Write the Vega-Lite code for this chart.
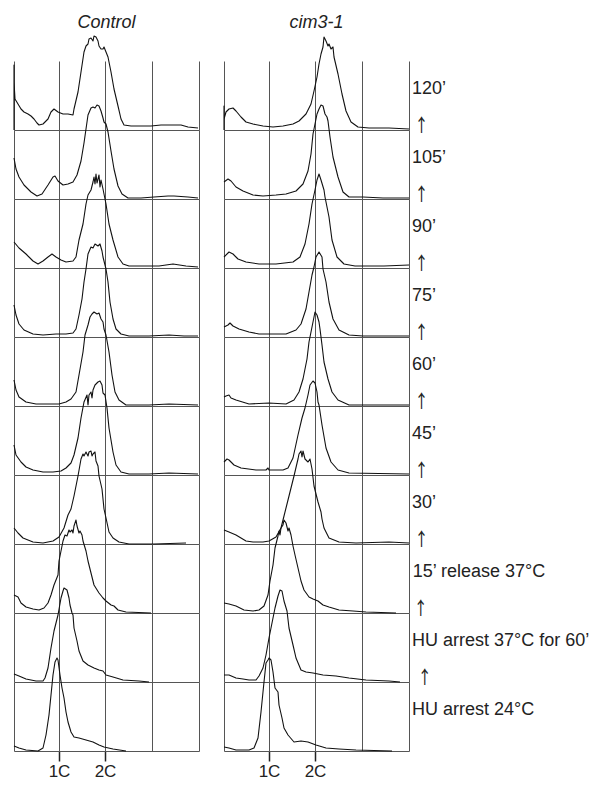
{
"$schema":"https://vega.github.io/schema/vega-lite/v6.json",
"background":"white",
"padding":{"left":13,"top":14,"right":2,"bottom":0},
"bounds":"flush",
"data":{"values":[
{"strain":"Control","stage":1,"dna":0,"count":0},{"strain":"Control","stage":1,"dna":0,"count":65},{"strain":"Control","stage":1,"dna":0,"count":48},{"strain":"Control","stage":1,"dna":1,"count":31},{"strain":"Control","stage":1,"dna":4,"count":26},{"strain":"Control","stage":1,"dna":7,"count":21},{"strain":"Control","stage":1,"dna":10,"count":18},{"strain":"Control","stage":1,"dna":14,"count":16},{"strain":"Control","stage":1,"dna":17,"count":14},{"strain":"Control","stage":1,"dna":20,"count":11},{"strain":"Control","stage":1,"dna":23,"count":7},{"strain":"Control","stage":1,"dna":25,"count":5},{"strain":"Control","stage":1,"dna":29,"count":6},{"strain":"Control","stage":1,"dna":34,"count":11},{"strain":"Control","stage":1,"dna":37,"count":18},{"strain":"Control","stage":1,"dna":40,"count":21},{"strain":"Control","stage":1,"dna":44,"count":18},{"strain":"Control","stage":1,"dna":49,"count":16},{"strain":"Control","stage":1,"dna":54,"count":16},{"strain":"Control","stage":1,"dna":59,"count":15},{"strain":"Control","stage":1,"dna":60,"count":21},{"strain":"Control","stage":1,"dna":64,"count":38},{"strain":"Control","stage":1,"dna":67,"count":58},{"strain":"Control","stage":1,"dna":70,"count":78},{"strain":"Control","stage":1,"dna":72,"count":84},{"strain":"Control","stage":1,"dna":74,"count":86},{"strain":"Control","stage":1,"dna":75,"count":91},{"strain":"Control","stage":1,"dna":77,"count":92},{"strain":"Control","stage":1,"dna":79,"count":89},{"strain":"Control","stage":1,"dna":80,"count":94},{"strain":"Control","stage":1,"dna":82,"count":93},{"strain":"Control","stage":1,"dna":84,"count":89},{"strain":"Control","stage":1,"dna":85,"count":84},{"strain":"Control","stage":1,"dna":87,"count":81},{"strain":"Control","stage":1,"dna":89,"count":81},{"strain":"Control","stage":1,"dna":90,"count":83},{"strain":"Control","stage":1,"dna":92,"count":78},{"strain":"Control","stage":1,"dna":94,"count":73},{"strain":"Control","stage":1,"dna":97,"count":58},{"strain":"Control","stage":1,"dna":100,"count":41},{"strain":"Control","stage":1,"dna":104,"count":24},{"strain":"Control","stage":1,"dna":107,"count":11},{"strain":"Control","stage":1,"dna":110,"count":5},{"strain":"Control","stage":1,"dna":117,"count":4},{"strain":"Control","stage":1,"dna":127,"count":4},{"strain":"Control","stage":1,"dna":137,"count":4},{"strain":"Control","stage":1,"dna":147,"count":5},{"strain":"Control","stage":1,"dna":157,"count":5},{"strain":"Control","stage":1,"dna":167,"count":5},{"strain":"Control","stage":1,"dna":174,"count":3},{"strain":"Control","stage":1,"dna":184,"count":2},
{"strain":"Control","stage":2,"dna":0,"count":41},{"strain":"Control","stage":2,"dna":2,"count":30},{"strain":"Control","stage":2,"dna":5,"count":22},{"strain":"Control","stage":2,"dna":10,"count":14},{"strain":"Control","stage":2,"dna":17,"count":7},{"strain":"Control","stage":2,"dna":23,"count":3},{"strain":"Control","stage":2,"dna":28,"count":5},{"strain":"Control","stage":2,"dna":34,"count":14},{"strain":"Control","stage":2,"dna":39,"count":22},{"strain":"Control","stage":2,"dna":41,"count":23},{"strain":"Control","stage":2,"dna":44,"count":18},{"strain":"Control","stage":2,"dna":49,"count":14},{"strain":"Control","stage":2,"dna":54,"count":15},{"strain":"Control","stage":2,"dna":59,"count":17},{"strain":"Control","stage":2,"dna":63,"count":24},{"strain":"Control","stage":2,"dna":67,"count":38},{"strain":"Control","stage":2,"dna":70,"count":56},{"strain":"Control","stage":2,"dna":72,"count":70},{"strain":"Control","stage":2,"dna":74,"count":84},{"strain":"Control","stage":2,"dna":77,"count":91},{"strain":"Control","stage":2,"dna":79,"count":92},{"strain":"Control","stage":2,"dna":81,"count":91},{"strain":"Control","stage":2,"dna":83,"count":94},{"strain":"Control","stage":2,"dna":85,"count":93},{"strain":"Control","stage":2,"dna":87,"count":88},{"strain":"Control","stage":2,"dna":89,"count":81},{"strain":"Control","stage":2,"dna":90,"count":77},{"strain":"Control","stage":2,"dna":92,"count":75},{"strain":"Control","stage":2,"dna":94,"count":67},{"strain":"Control","stage":2,"dna":97,"count":48},{"strain":"Control","stage":2,"dna":100,"count":30},{"strain":"Control","stage":2,"dna":104,"count":13},{"strain":"Control","stage":2,"dna":108,"count":5},{"strain":"Control","stage":2,"dna":114,"count":1},{"strain":"Control","stage":2,"dna":127,"count":1},{"strain":"Control","stage":2,"dna":140,"count":2},{"strain":"Control","stage":2,"dna":154,"count":3},{"strain":"Control","stage":2,"dna":160,"count":3},{"strain":"Control","stage":2,"dna":174,"count":2},{"strain":"Control","stage":2,"dna":184,"count":1},
{"strain":"Control","stage":3,"dna":0,"count":26},{"strain":"Control","stage":3,"dna":5,"count":20},{"strain":"Control","stage":3,"dna":12,"count":14},{"strain":"Control","stage":3,"dna":19,"count":7},{"strain":"Control","stage":3,"dna":24,"count":4},{"strain":"Control","stage":3,"dna":29,"count":7},{"strain":"Control","stage":3,"dna":34,"count":11},{"strain":"Control","stage":3,"dna":38,"count":14},{"strain":"Control","stage":3,"dna":42,"count":11},{"strain":"Control","stage":3,"dna":47,"count":8},{"strain":"Control","stage":3,"dna":52,"count":6},{"strain":"Control","stage":3,"dna":59,"count":7},{"strain":"Control","stage":3,"dna":62,"count":11},{"strain":"Control","stage":3,"dna":65,"count":28},{"strain":"Control","stage":3,"dna":69,"count":44},{"strain":"Control","stage":3,"dna":72,"count":64},{"strain":"Control","stage":3,"dna":74,"count":73},{"strain":"Control","stage":3,"dna":77,"count":78},{"strain":"Control","stage":3,"dna":79,"count":86},{"strain":"Control","stage":3,"dna":80,"count":91},{"strain":"Control","stage":3,"dna":81,"count":84},{"strain":"Control","stage":3,"dna":82,"count":94},{"strain":"Control","stage":3,"dna":83,"count":85},{"strain":"Control","stage":3,"dna":85,"count":93},{"strain":"Control","stage":3,"dna":86,"count":81},{"strain":"Control","stage":3,"dna":87,"count":88},{"strain":"Control","stage":3,"dna":89,"count":79},{"strain":"Control","stage":3,"dna":90,"count":74},{"strain":"Control","stage":3,"dna":92,"count":64},{"strain":"Control","stage":3,"dna":95,"count":44},{"strain":"Control","stage":3,"dna":99,"count":28},{"strain":"Control","stage":3,"dna":104,"count":11},{"strain":"Control","stage":3,"dna":109,"count":4},{"strain":"Control","stage":3,"dna":115,"count":2},{"strain":"Control","stage":3,"dna":132,"count":2},{"strain":"Control","stage":3,"dna":145,"count":2},{"strain":"Control","stage":3,"dna":159,"count":4},{"strain":"Control","stage":3,"dna":172,"count":2},{"strain":"Control","stage":3,"dna":184,"count":1},
{"strain":"Control","stage":4,"dna":0,"count":32},{"strain":"Control","stage":4,"dna":2,"count":22},{"strain":"Control","stage":4,"dna":5,"count":13},{"strain":"Control","stage":4,"dna":10,"count":7},{"strain":"Control","stage":4,"dna":19,"count":3},{"strain":"Control","stage":4,"dna":29,"count":2},{"strain":"Control","stage":4,"dna":42,"count":3},{"strain":"Control","stage":4,"dna":52,"count":3},{"strain":"Control","stage":4,"dna":59,"count":4},{"strain":"Control","stage":4,"dna":62,"count":8},{"strain":"Control","stage":4,"dna":65,"count":22},{"strain":"Control","stage":4,"dna":68,"count":38},{"strain":"Control","stage":4,"dna":70,"count":55},{"strain":"Control","stage":4,"dna":72,"count":68},{"strain":"Control","stage":4,"dna":74,"count":83},{"strain":"Control","stage":4,"dna":77,"count":90},{"strain":"Control","stage":4,"dna":79,"count":89},{"strain":"Control","stage":4,"dna":81,"count":93},{"strain":"Control","stage":4,"dna":84,"count":91},{"strain":"Control","stage":4,"dna":86,"count":93},{"strain":"Control","stage":4,"dna":88,"count":86},{"strain":"Control","stage":4,"dna":89,"count":80},{"strain":"Control","stage":4,"dna":92,"count":68},{"strain":"Control","stage":4,"dna":94,"count":55},{"strain":"Control","stage":4,"dna":96,"count":35},{"strain":"Control","stage":4,"dna":99,"count":18},{"strain":"Control","stage":4,"dna":102,"count":8},{"strain":"Control","stage":4,"dna":107,"count":3},{"strain":"Control","stage":4,"dna":115,"count":1},{"strain":"Control","stage":4,"dna":135,"count":1},{"strain":"Control","stage":4,"dna":155,"count":2},{"strain":"Control","stage":4,"dna":170,"count":1},{"strain":"Control","stage":4,"dna":184,"count":1},
{"strain":"Control","stage":5,"dna":0,"count":26},{"strain":"Control","stage":5,"dna":2,"count":16},{"strain":"Control","stage":5,"dna":5,"count":9},{"strain":"Control","stage":5,"dna":12,"count":4},{"strain":"Control","stage":5,"dna":22,"count":2},{"strain":"Control","stage":5,"dna":35,"count":2},{"strain":"Control","stage":5,"dna":45,"count":2},{"strain":"Control","stage":5,"dna":52,"count":4},{"strain":"Control","stage":5,"dna":57,"count":7},{"strain":"Control","stage":5,"dna":62,"count":14},{"strain":"Control","stage":5,"dna":65,"count":31},{"strain":"Control","stage":5,"dna":69,"count":54},{"strain":"Control","stage":5,"dna":71,"count":71},{"strain":"Control","stage":5,"dna":74,"count":81},{"strain":"Control","stage":5,"dna":76,"count":89},{"strain":"Control","stage":5,"dna":78,"count":92},{"strain":"Control","stage":5,"dna":80,"count":94},{"strain":"Control","stage":5,"dna":83,"count":92},{"strain":"Control","stage":5,"dna":85,"count":93},{"strain":"Control","stage":5,"dna":87,"count":87},{"strain":"Control","stage":5,"dna":89,"count":84},{"strain":"Control","stage":5,"dna":90,"count":77},{"strain":"Control","stage":5,"dna":92,"count":71},{"strain":"Control","stage":5,"dna":95,"count":54},{"strain":"Control","stage":5,"dna":98,"count":31},{"strain":"Control","stage":5,"dna":101,"count":14},{"strain":"Control","stage":5,"dna":105,"count":6},{"strain":"Control","stage":5,"dna":112,"count":1},{"strain":"Control","stage":5,"dna":135,"count":1},{"strain":"Control","stage":5,"dna":155,"count":2},{"strain":"Control","stage":5,"dna":184,"count":1},
{"strain":"Control","stage":6,"dna":0,"count":30},{"strain":"Control","stage":6,"dna":2,"count":20},{"strain":"Control","stage":6,"dna":7,"count":13},{"strain":"Control","stage":6,"dna":12,"count":8},{"strain":"Control","stage":6,"dna":19,"count":5},{"strain":"Control","stage":6,"dna":29,"count":3},{"strain":"Control","stage":6,"dna":39,"count":3},{"strain":"Control","stage":6,"dna":47,"count":4},{"strain":"Control","stage":6,"dna":52,"count":7},{"strain":"Control","stage":6,"dna":57,"count":12},{"strain":"Control","stage":6,"dna":60,"count":20},{"strain":"Control","stage":6,"dna":64,"count":37},{"strain":"Control","stage":6,"dna":67,"count":57},{"strain":"Control","stage":6,"dna":70,"count":73},{"strain":"Control","stage":6,"dna":73,"count":80},{"strain":"Control","stage":6,"dna":74,"count":70},{"strain":"Control","stage":6,"dna":75,"count":80},{"strain":"Control","stage":6,"dna":77,"count":83},{"strain":"Control","stage":6,"dna":78,"count":77},{"strain":"Control","stage":6,"dna":79,"count":85},{"strain":"Control","stage":6,"dna":81,"count":90},{"strain":"Control","stage":6,"dna":84,"count":93},{"strain":"Control","stage":6,"dna":86,"count":94},{"strain":"Control","stage":6,"dna":88,"count":90},{"strain":"Control","stage":6,"dna":89,"count":82},{"strain":"Control","stage":6,"dna":91,"count":80},{"strain":"Control","stage":6,"dna":93,"count":67},{"strain":"Control","stage":6,"dna":95,"count":47},{"strain":"Control","stage":6,"dna":99,"count":23},{"strain":"Control","stage":6,"dna":102,"count":10},{"strain":"Control","stage":6,"dna":107,"count":3},{"strain":"Control","stage":6,"dna":115,"count":1},{"strain":"Control","stage":6,"dna":135,"count":1},{"strain":"Control","stage":6,"dna":155,"count":2},{"strain":"Control","stage":6,"dna":184,"count":1},
{"strain":"Control","stage":7,"dna":0,"count":16},{"strain":"Control","stage":7,"dna":4,"count":11},{"strain":"Control","stage":7,"dna":9,"count":6},{"strain":"Control","stage":7,"dna":19,"count":2},{"strain":"Control","stage":7,"dna":29,"count":1},{"strain":"Control","stage":7,"dna":39,"count":3},{"strain":"Control","stage":7,"dna":45,"count":7},{"strain":"Control","stage":7,"dna":50,"count":16},{"strain":"Control","stage":7,"dna":54,"count":29},{"strain":"Control","stage":7,"dna":57,"count":35},{"strain":"Control","stage":7,"dna":60,"count":48},{"strain":"Control","stage":7,"dna":64,"count":68},{"strain":"Control","stage":7,"dna":67,"count":85},{"strain":"Control","stage":7,"dna":69,"count":90},{"strain":"Control","stage":7,"dna":70,"count":88},{"strain":"Control","stage":7,"dna":72,"count":92},{"strain":"Control","stage":7,"dna":74,"count":88},{"strain":"Control","stage":7,"dna":75,"count":92},{"strain":"Control","stage":7,"dna":77,"count":93},{"strain":"Control","stage":7,"dna":78,"count":88},{"strain":"Control","stage":7,"dna":79,"count":90},{"strain":"Control","stage":7,"dna":81,"count":92},{"strain":"Control","stage":7,"dna":82,"count":83},{"strain":"Control","stage":7,"dna":84,"count":78},{"strain":"Control","stage":7,"dna":85,"count":68},{"strain":"Control","stage":7,"dna":88,"count":55},{"strain":"Control","stage":7,"dna":90,"count":35},{"strain":"Control","stage":7,"dna":92,"count":26},{"strain":"Control","stage":7,"dna":95,"count":12},{"strain":"Control","stage":7,"dna":99,"count":6},{"strain":"Control","stage":7,"dna":105,"count":2},{"strain":"Control","stage":7,"dna":115,"count":0},{"strain":"Control","stage":7,"dna":140,"count":0},{"strain":"Control","stage":7,"dna":172,"count":1},
{"strain":"Control","stage":8,"dna":0,"count":18},{"strain":"Control","stage":8,"dna":4,"count":16},{"strain":"Control","stage":8,"dna":7,"count":10},{"strain":"Control","stage":8,"dna":12,"count":6},{"strain":"Control","stage":8,"dna":19,"count":4},{"strain":"Control","stage":8,"dna":25,"count":3},{"strain":"Control","stage":8,"dna":30,"count":5},{"strain":"Control","stage":8,"dna":34,"count":10},{"strain":"Control","stage":8,"dna":37,"count":18},{"strain":"Control","stage":8,"dna":40,"count":28},{"strain":"Control","stage":8,"dna":44,"count":38},{"strain":"Control","stage":8,"dna":45,"count":52},{"strain":"Control","stage":8,"dna":47,"count":62},{"strain":"Control","stage":8,"dna":49,"count":72},{"strain":"Control","stage":8,"dna":51,"count":78},{"strain":"Control","stage":8,"dna":53,"count":77},{"strain":"Control","stage":8,"dna":55,"count":83},{"strain":"Control","stage":8,"dna":56,"count":81},{"strain":"Control","stage":8,"dna":58,"count":83},{"strain":"Control","stage":8,"dna":59,"count":80},{"strain":"Control","stage":8,"dna":60,"count":87},{"strain":"Control","stage":8,"dna":62,"count":93},{"strain":"Control","stage":8,"dna":63,"count":87},{"strain":"Control","stage":8,"dna":65,"count":80},{"strain":"Control","stage":8,"dna":66,"count":82},{"strain":"Control","stage":8,"dna":68,"count":78},{"strain":"Control","stage":8,"dna":69,"count":72},{"strain":"Control","stage":8,"dna":72,"count":62},{"strain":"Control","stage":8,"dna":74,"count":52},{"strain":"Control","stage":8,"dna":77,"count":40},{"strain":"Control","stage":8,"dna":80,"count":28},{"strain":"Control","stage":8,"dna":85,"count":20},{"strain":"Control","stage":8,"dna":89,"count":15},{"strain":"Control","stage":8,"dna":92,"count":12},{"strain":"Control","stage":8,"dna":97,"count":8},{"strain":"Control","stage":8,"dna":100,"count":7},{"strain":"Control","stage":8,"dna":104,"count":3},{"strain":"Control","stage":8,"dna":112,"count":1},{"strain":"Control","stage":8,"dna":137,"count":0},
{"strain":"Control","stage":9,"dna":0,"count":8},{"strain":"Control","stage":9,"dna":5,"count":6},{"strain":"Control","stage":9,"dna":12,"count":3},{"strain":"Control","stage":9,"dna":22,"count":1},{"strain":"Control","stage":9,"dna":29,"count":1},{"strain":"Control","stage":9,"dna":31,"count":4},{"strain":"Control","stage":9,"dna":34,"count":14},{"strain":"Control","stage":9,"dna":37,"count":34},{"strain":"Control","stage":9,"dna":40,"count":51},{"strain":"Control","stage":9,"dna":44,"count":67},{"strain":"Control","stage":9,"dna":47,"count":84},{"strain":"Control","stage":9,"dna":49,"count":91},{"strain":"Control","stage":9,"dna":50,"count":94},{"strain":"Control","stage":9,"dna":53,"count":92},{"strain":"Control","stage":9,"dna":55,"count":84},{"strain":"Control","stage":9,"dna":56,"count":77},{"strain":"Control","stage":9,"dna":58,"count":69},{"strain":"Control","stage":9,"dna":59,"count":67},{"strain":"Control","stage":9,"dna":60,"count":54},{"strain":"Control","stage":9,"dna":63,"count":41},{"strain":"Control","stage":9,"dna":65,"count":31},{"strain":"Control","stage":9,"dna":69,"count":21},{"strain":"Control","stage":9,"dna":74,"count":17},{"strain":"Control","stage":9,"dna":80,"count":14},{"strain":"Control","stage":9,"dna":85,"count":12},{"strain":"Control","stage":9,"dna":89,"count":11},{"strain":"Control","stage":9,"dna":92,"count":7},{"strain":"Control","stage":9,"dna":99,"count":5},{"strain":"Control","stage":9,"dna":109,"count":2},{"strain":"Control","stage":9,"dna":125,"count":1},{"strain":"Control","stage":9,"dna":135,"count":0},
{"strain":"Control","stage":10,"dna":0,"count":5},{"strain":"Control","stage":10,"dna":5,"count":3},{"strain":"Control","stage":10,"dna":12,"count":1},{"strain":"Control","stage":10,"dna":24,"count":0},{"strain":"Control","stage":10,"dna":29,"count":3},{"strain":"Control","stage":10,"dna":32,"count":16},{"strain":"Control","stage":10,"dna":35,"count":36},{"strain":"Control","stage":10,"dna":37,"count":56},{"strain":"Control","stage":10,"dna":39,"count":76},{"strain":"Control","stage":10,"dna":41,"count":89},{"strain":"Control","stage":10,"dna":43,"count":93},{"strain":"Control","stage":10,"dna":44,"count":91},{"strain":"Control","stage":10,"dna":46,"count":76},{"strain":"Control","stage":10,"dna":48,"count":63},{"strain":"Control","stage":10,"dna":50,"count":53},{"strain":"Control","stage":10,"dna":52,"count":39},{"strain":"Control","stage":10,"dna":54,"count":29},{"strain":"Control","stage":10,"dna":57,"count":19},{"strain":"Control","stage":10,"dna":60,"count":14},{"strain":"Control","stage":10,"dna":65,"count":13},{"strain":"Control","stage":10,"dna":72,"count":11},{"strain":"Control","stage":10,"dna":79,"count":9},{"strain":"Control","stage":10,"dna":85,"count":6},{"strain":"Control","stage":10,"dna":90,"count":4},{"strain":"Control","stage":10,"dna":99,"count":2},{"strain":"Control","stage":10,"dna":112,"count":0},
{"strain":"cim3-1","stage":1,"dna":0,"count":0},{"strain":"cim3-1","stage":1,"dna":0,"count":24},{"strain":"cim3-1","stage":1,"dna":0,"count":11},{"strain":"cim3-1","stage":1,"dna":2,"count":18},{"strain":"cim3-1","stage":1,"dna":5,"count":21},{"strain":"cim3-1","stage":1,"dna":9,"count":22},{"strain":"cim3-1","stage":1,"dna":12,"count":19},{"strain":"cim3-1","stage":1,"dna":17,"count":13},{"strain":"cim3-1","stage":1,"dna":22,"count":8},{"strain":"cim3-1","stage":1,"dna":29,"count":6},{"strain":"cim3-1","stage":1,"dna":39,"count":4},{"strain":"cim3-1","stage":1,"dna":49,"count":3},{"strain":"cim3-1","stage":1,"dna":59,"count":4},{"strain":"cim3-1","stage":1,"dna":69,"count":6},{"strain":"cim3-1","stage":1,"dna":75,"count":9},{"strain":"cim3-1","stage":1,"dna":82,"count":16},{"strain":"cim3-1","stage":1,"dna":87,"count":26},{"strain":"cim3-1","stage":1,"dna":90,"count":39},{"strain":"cim3-1","stage":1,"dna":93,"count":53},{"strain":"cim3-1","stage":1,"dna":95,"count":66},{"strain":"cim3-1","stage":1,"dna":97,"count":76},{"strain":"cim3-1","stage":1,"dna":99,"count":83},{"strain":"cim3-1","stage":1,"dna":100,"count":93},{"strain":"cim3-1","stage":1,"dna":102,"count":89},{"strain":"cim3-1","stage":1,"dna":104,"count":84},{"strain":"cim3-1","stage":1,"dna":105,"count":86},{"strain":"cim3-1","stage":1,"dna":107,"count":81},{"strain":"cim3-1","stage":1,"dna":109,"count":83},{"strain":"cim3-1","stage":1,"dna":110,"count":73},{"strain":"cim3-1","stage":1,"dna":114,"count":56},{"strain":"cim3-1","stage":1,"dna":118,"count":36},{"strain":"cim3-1","stage":1,"dna":122,"count":19},{"strain":"cim3-1","stage":1,"dna":127,"count":8},{"strain":"cim3-1","stage":1,"dna":134,"count":3},{"strain":"cim3-1","stage":1,"dna":145,"count":2},{"strain":"cim3-1","stage":1,"dna":165,"count":2},{"strain":"cim3-1","stage":1,"dna":185,"count":1},
{"strain":"cim3-1","stage":2,"dna":0,"count":17},{"strain":"cim3-1","stage":2,"dna":4,"count":20},{"strain":"cim3-1","stage":2,"dna":7,"count":18},{"strain":"cim3-1","stage":2,"dna":12,"count":12},{"strain":"cim3-1","stage":2,"dna":19,"count":8},{"strain":"cim3-1","stage":2,"dna":29,"count":4},{"strain":"cim3-1","stage":2,"dna":39,"count":3},{"strain":"cim3-1","stage":2,"dna":52,"count":4},{"strain":"cim3-1","stage":2,"dna":62,"count":5},{"strain":"cim3-1","stage":2,"dna":72,"count":8},{"strain":"cim3-1","stage":2,"dna":79,"count":15},{"strain":"cim3-1","stage":2,"dna":84,"count":28},{"strain":"cim3-1","stage":2,"dna":87,"count":45},{"strain":"cim3-1","stage":2,"dna":89,"count":65},{"strain":"cim3-1","stage":2,"dna":91,"count":75},{"strain":"cim3-1","stage":2,"dna":93,"count":85},{"strain":"cim3-1","stage":2,"dna":95,"count":90},{"strain":"cim3-1","stage":2,"dna":97,"count":94},{"strain":"cim3-1","stage":2,"dna":99,"count":93},{"strain":"cim3-1","stage":2,"dna":101,"count":85},{"strain":"cim3-1","stage":2,"dna":103,"count":82},{"strain":"cim3-1","stage":2,"dna":104,"count":78},{"strain":"cim3-1","stage":2,"dna":106,"count":62},{"strain":"cim3-1","stage":2,"dna":109,"count":42},{"strain":"cim3-1","stage":2,"dna":114,"count":22},{"strain":"cim3-1","stage":2,"dna":119,"count":7},{"strain":"cim3-1","stage":2,"dna":125,"count":2},{"strain":"cim3-1","stage":2,"dna":139,"count":2},{"strain":"cim3-1","stage":2,"dna":159,"count":1},{"strain":"cim3-1","stage":2,"dna":185,"count":1},
{"strain":"cim3-1","stage":3,"dna":0,"count":11},{"strain":"cim3-1","stage":3,"dna":5,"count":16},{"strain":"cim3-1","stage":3,"dna":9,"count":14},{"strain":"cim3-1","stage":3,"dna":14,"count":9},{"strain":"cim3-1","stage":3,"dna":22,"count":6},{"strain":"cim3-1","stage":3,"dna":35,"count":4},{"strain":"cim3-1","stage":3,"dna":52,"count":4},{"strain":"cim3-1","stage":3,"dna":69,"count":6},{"strain":"cim3-1","stage":3,"dna":76,"count":11},{"strain":"cim3-1","stage":3,"dna":81,"count":24},{"strain":"cim3-1","stage":3,"dna":85,"count":44},{"strain":"cim3-1","stage":3,"dna":88,"count":64},{"strain":"cim3-1","stage":3,"dna":91,"count":78},{"strain":"cim3-1","stage":3,"dna":93,"count":88},{"strain":"cim3-1","stage":3,"dna":95,"count":94},{"strain":"cim3-1","stage":3,"dna":97,"count":88},{"strain":"cim3-1","stage":3,"dna":100,"count":78},{"strain":"cim3-1","stage":3,"dna":101,"count":71},{"strain":"cim3-1","stage":3,"dna":105,"count":51},{"strain":"cim3-1","stage":3,"dna":108,"count":28},{"strain":"cim3-1","stage":3,"dna":113,"count":11},{"strain":"cim3-1","stage":3,"dna":120,"count":4},{"strain":"cim3-1","stage":3,"dna":131,"count":2},{"strain":"cim3-1","stage":3,"dna":160,"count":2},{"strain":"cim3-1","stage":3,"dna":185,"count":3},
{"strain":"cim3-1","stage":4,"dna":0,"count":10},{"strain":"cim3-1","stage":4,"dna":4,"count":12},{"strain":"cim3-1","stage":4,"dna":6,"count":14},{"strain":"cim3-1","stage":4,"dna":9,"count":11},{"strain":"cim3-1","stage":4,"dna":15,"count":8},{"strain":"cim3-1","stage":4,"dna":25,"count":5},{"strain":"cim3-1","stage":4,"dna":35,"count":3},{"strain":"cim3-1","stage":4,"dna":49,"count":3},{"strain":"cim3-1","stage":4,"dna":62,"count":3},{"strain":"cim3-1","stage":4,"dna":72,"count":7},{"strain":"cim3-1","stage":4,"dna":77,"count":13},{"strain":"cim3-1","stage":4,"dna":82,"count":28},{"strain":"cim3-1","stage":4,"dna":85,"count":45},{"strain":"cim3-1","stage":4,"dna":88,"count":62},{"strain":"cim3-1","stage":4,"dna":90,"count":70},{"strain":"cim3-1","stage":4,"dna":92,"count":80},{"strain":"cim3-1","stage":4,"dna":95,"count":85},{"strain":"cim3-1","stage":4,"dna":98,"count":80},{"strain":"cim3-1","stage":4,"dna":99,"count":68},{"strain":"cim3-1","stage":4,"dna":102,"count":55},{"strain":"cim3-1","stage":4,"dna":105,"count":35},{"strain":"cim3-1","stage":4,"dna":109,"count":18},{"strain":"cim3-1","stage":4,"dna":115,"count":7},{"strain":"cim3-1","stage":4,"dna":125,"count":2},{"strain":"cim3-1","stage":4,"dna":139,"count":1},{"strain":"cim3-1","stage":4,"dna":185,"count":1},
{"strain":"cim3-1","stage":5,"dna":0,"count":9},{"strain":"cim3-1","stage":5,"dna":2,"count":10},{"strain":"cim3-1","stage":5,"dna":5,"count":11},{"strain":"cim3-1","stage":5,"dna":7,"count":8},{"strain":"cim3-1","stage":5,"dna":12,"count":6},{"strain":"cim3-1","stage":5,"dna":25,"count":2},{"strain":"cim3-1","stage":5,"dna":45,"count":3},{"strain":"cim3-1","stage":5,"dna":62,"count":2},{"strain":"cim3-1","stage":5,"dna":70,"count":6},{"strain":"cim3-1","stage":5,"dna":75,"count":14},{"strain":"cim3-1","stage":5,"dna":79,"count":27},{"strain":"cim3-1","stage":5,"dna":83,"count":47},{"strain":"cim3-1","stage":5,"dna":85,"count":64},{"strain":"cim3-1","stage":5,"dna":87,"count":74},{"strain":"cim3-1","stage":5,"dna":89,"count":84},{"strain":"cim3-1","stage":5,"dna":91,"count":94},{"strain":"cim3-1","stage":5,"dna":93,"count":91},{"strain":"cim3-1","stage":5,"dna":95,"count":84},{"strain":"cim3-1","stage":5,"dna":96,"count":77},{"strain":"cim3-1","stage":5,"dna":98,"count":61},{"strain":"cim3-1","stage":5,"dna":100,"count":44},{"strain":"cim3-1","stage":5,"dna":104,"count":27},{"strain":"cim3-1","stage":5,"dna":108,"count":14},{"strain":"cim3-1","stage":5,"dna":114,"count":6},{"strain":"cim3-1","stage":5,"dna":125,"count":1},{"strain":"cim3-1","stage":5,"dna":185,"count":1},
{"strain":"cim3-1","stage":6,"dna":0,"count":13},{"strain":"cim3-1","stage":6,"dna":3,"count":16},{"strain":"cim3-1","stage":6,"dna":5,"count":15},{"strain":"cim3-1","stage":6,"dna":10,"count":10},{"strain":"cim3-1","stage":6,"dna":17,"count":7},{"strain":"cim3-1","stage":6,"dna":32,"count":5},{"strain":"cim3-1","stage":6,"dna":42,"count":5},{"strain":"cim3-1","stage":6,"dna":44,"count":7},{"strain":"cim3-1","stage":6,"dna":45,"count":5},{"strain":"cim3-1","stage":6,"dna":59,"count":5},{"strain":"cim3-1","stage":6,"dna":64,"count":7},{"strain":"cim3-1","stage":6,"dna":69,"count":17},{"strain":"cim3-1","stage":6,"dna":74,"count":40},{"strain":"cim3-1","stage":6,"dna":78,"count":57},{"strain":"cim3-1","stage":6,"dna":81,"count":67},{"strain":"cim3-1","stage":6,"dna":84,"count":80},{"strain":"cim3-1","stage":6,"dna":86,"count":90},{"strain":"cim3-1","stage":6,"dna":89,"count":94},{"strain":"cim3-1","stage":6,"dna":91,"count":92},{"strain":"cim3-1","stage":6,"dna":93,"count":83},{"strain":"cim3-1","stage":6,"dna":94,"count":73},{"strain":"cim3-1","stage":6,"dna":95,"count":70},{"strain":"cim3-1","stage":6,"dna":98,"count":50},{"strain":"cim3-1","stage":6,"dna":102,"count":27},{"strain":"cim3-1","stage":6,"dna":107,"count":13},{"strain":"cim3-1","stage":6,"dna":114,"count":5},{"strain":"cim3-1","stage":6,"dna":125,"count":2},{"strain":"cim3-1","stage":6,"dna":185,"count":1},
{"strain":"cim3-1","stage":7,"dna":0,"count":14},{"strain":"cim3-1","stage":7,"dna":5,"count":12},{"strain":"cim3-1","stage":7,"dna":12,"count":9},{"strain":"cim3-1","stage":7,"dna":22,"count":3},{"strain":"cim3-1","stage":7,"dna":29,"count":2},{"strain":"cim3-1","stage":7,"dna":39,"count":2},{"strain":"cim3-1","stage":7,"dna":45,"count":3},{"strain":"cim3-1","stage":7,"dna":52,"count":7},{"strain":"cim3-1","stage":7,"dna":57,"count":16},{"strain":"cim3-1","stage":7,"dna":60,"count":28},{"strain":"cim3-1","stage":7,"dna":65,"count":48},{"strain":"cim3-1","stage":7,"dna":70,"count":68},{"strain":"cim3-1","stage":7,"dna":74,"count":85},{"strain":"cim3-1","stage":7,"dna":75,"count":90},{"strain":"cim3-1","stage":7,"dna":77,"count":93},{"strain":"cim3-1","stage":7,"dna":78,"count":87},{"strain":"cim3-1","stage":7,"dna":79,"count":93},{"strain":"cim3-1","stage":7,"dna":81,"count":85},{"strain":"cim3-1","stage":7,"dna":84,"count":82},{"strain":"cim3-1","stage":7,"dna":86,"count":85},{"strain":"cim3-1","stage":7,"dna":88,"count":75},{"strain":"cim3-1","stage":7,"dna":90,"count":58},{"strain":"cim3-1","stage":7,"dna":94,"count":42},{"strain":"cim3-1","stage":7,"dna":97,"count":32},{"strain":"cim3-1","stage":7,"dna":98,"count":25},{"strain":"cim3-1","stage":7,"dna":100,"count":16},{"strain":"cim3-1","stage":7,"dna":105,"count":6},{"strain":"cim3-1","stage":7,"dna":115,"count":2},{"strain":"cim3-1","stage":7,"dna":132,"count":1},{"strain":"cim3-1","stage":7,"dna":165,"count":2},{"strain":"cim3-1","stage":7,"dna":185,"count":1},
{"strain":"cim3-1","stage":8,"dna":0,"count":10},{"strain":"cim3-1","stage":8,"dna":5,"count":9},{"strain":"cim3-1","stage":8,"dna":12,"count":7},{"strain":"cim3-1","stage":8,"dna":20,"count":3},{"strain":"cim3-1","stage":8,"dna":29,"count":2},{"strain":"cim3-1","stage":8,"dna":35,"count":3},{"strain":"cim3-1","stage":8,"dna":40,"count":7},{"strain":"cim3-1","stage":8,"dna":44,"count":18},{"strain":"cim3-1","stage":8,"dna":46,"count":32},{"strain":"cim3-1","stage":8,"dna":49,"count":48},{"strain":"cim3-1","stage":8,"dna":51,"count":65},{"strain":"cim3-1","stage":8,"dna":54,"count":77},{"strain":"cim3-1","stage":8,"dna":55,"count":82},{"strain":"cim3-1","stage":8,"dna":56,"count":78},{"strain":"cim3-1","stage":8,"dna":57,"count":85},{"strain":"cim3-1","stage":8,"dna":59,"count":88},{"strain":"cim3-1","stage":8,"dna":60,"count":93},{"strain":"cim3-1","stage":8,"dna":62,"count":90},{"strain":"cim3-1","stage":8,"dna":64,"count":82},{"strain":"cim3-1","stage":8,"dna":65,"count":85},{"strain":"cim3-1","stage":8,"dna":67,"count":78},{"strain":"cim3-1","stage":8,"dna":69,"count":67},{"strain":"cim3-1","stage":8,"dna":71,"count":58},{"strain":"cim3-1","stage":8,"dna":74,"count":45},{"strain":"cim3-1","stage":8,"dna":77,"count":32},{"strain":"cim3-1","stage":8,"dna":80,"count":23},{"strain":"cim3-1","stage":8,"dna":85,"count":16},{"strain":"cim3-1","stage":8,"dna":89,"count":14},{"strain":"cim3-1","stage":8,"dna":94,"count":12},{"strain":"cim3-1","stage":8,"dna":99,"count":8},{"strain":"cim3-1","stage":8,"dna":105,"count":6},{"strain":"cim3-1","stage":8,"dna":115,"count":3},{"strain":"cim3-1","stage":8,"dna":129,"count":2},{"strain":"cim3-1","stage":8,"dna":142,"count":1},{"strain":"cim3-1","stage":8,"dna":172,"count":0},
{"strain":"cim3-1","stage":9,"dna":0,"count":7},{"strain":"cim3-1","stage":9,"dna":5,"count":7},{"strain":"cim3-1","stage":9,"dna":12,"count":4},{"strain":"cim3-1","stage":9,"dna":19,"count":3},{"strain":"cim3-1","stage":9,"dna":25,"count":2},{"strain":"cim3-1","stage":9,"dna":32,"count":2},{"strain":"cim3-1","stage":9,"dna":35,"count":6},{"strain":"cim3-1","stage":9,"dna":39,"count":14},{"strain":"cim3-1","stage":9,"dna":42,"count":27},{"strain":"cim3-1","stage":9,"dna":45,"count":44},{"strain":"cim3-1","stage":9,"dna":49,"count":64},{"strain":"cim3-1","stage":9,"dna":51,"count":74},{"strain":"cim3-1","stage":9,"dna":54,"count":86},{"strain":"cim3-1","stage":9,"dna":56,"count":92},{"strain":"cim3-1","stage":9,"dna":58,"count":91},{"strain":"cim3-1","stage":9,"dna":60,"count":81},{"strain":"cim3-1","stage":9,"dna":63,"count":71},{"strain":"cim3-1","stage":9,"dna":65,"count":54},{"strain":"cim3-1","stage":9,"dna":69,"count":37},{"strain":"cim3-1","stage":9,"dna":72,"count":24},{"strain":"cim3-1","stage":9,"dna":77,"count":12},{"strain":"cim3-1","stage":9,"dna":82,"count":10},{"strain":"cim3-1","stage":9,"dna":89,"count":9},{"strain":"cim3-1","stage":9,"dna":99,"count":7},{"strain":"cim3-1","stage":9,"dna":112,"count":6},{"strain":"cim3-1","stage":9,"dna":125,"count":4},{"strain":"cim3-1","stage":9,"dna":142,"count":2},{"strain":"cim3-1","stage":9,"dna":165,"count":1},{"strain":"cim3-1","stage":9,"dna":176,"count":0},
{"strain":"cim3-1","stage":10,"dna":0,"count":4},{"strain":"cim3-1","stage":10,"dna":5,"count":3},{"strain":"cim3-1","stage":10,"dna":12,"count":1},{"strain":"cim3-1","stage":10,"dna":25,"count":1},{"strain":"cim3-1","stage":10,"dna":30,"count":3},{"strain":"cim3-1","stage":10,"dna":34,"count":13},{"strain":"cim3-1","stage":10,"dna":37,"count":39},{"strain":"cim3-1","stage":10,"dna":40,"count":69},{"strain":"cim3-1","stage":10,"dna":42,"count":88},{"strain":"cim3-1","stage":10,"dna":44,"count":91},{"strain":"cim3-1","stage":10,"dna":45,"count":93},{"strain":"cim3-1","stage":10,"dna":47,"count":91},{"strain":"cim3-1","stage":10,"dna":49,"count":79},{"strain":"cim3-1","stage":10,"dna":51,"count":63},{"strain":"cim3-1","stage":10,"dna":54,"count":59},{"strain":"cim3-1","stage":10,"dna":55,"count":46},{"strain":"cim3-1","stage":10,"dna":58,"count":33},{"strain":"cim3-1","stage":10,"dna":60,"count":23},{"strain":"cim3-1","stage":10,"dna":64,"count":16},{"strain":"cim3-1","stage":10,"dna":70,"count":9},{"strain":"cim3-1","stage":10,"dna":77,"count":10},{"strain":"cim3-1","stage":10,"dna":84,"count":9},{"strain":"cim3-1","stage":10,"dna":92,"count":6},{"strain":"cim3-1","stage":10,"dna":102,"count":3},{"strain":"cim3-1","stage":10,"dna":115,"count":2},{"strain":"cim3-1","stage":10,"dna":132,"count":1},{"strain":"cim3-1","stage":10,"dna":168,"count":0}
]},
"spacing":{"row":0,"column":25},
"facet":{
"column":{"field":"strain","type":"nominal","sort":["Control","cim3-1"],"title":null,
"header":{"labelFont":"Liberation Sans","labelFontSize":18,"labelFontStyle":"italic","labelColor":"#222","labelPadding":29}},
"row":{"field":"stage","type":"ordinal","title":null,
"header":{"labelOrient":"right","labelAngle":0,"labelAlign":"right","labelAnchor":"start","labelBaseline":"top","labelFont":"Liberation Sans, Noto Sans CJK JP","labelFontSize":18,"labelColor":"#222","labelPadding":3,"labelLineHeight":19,
"labelExpr":"datum.value == 10 ? ['\u200b', 'HU arrest 24°C'] : ['\u200b', ['120’','105’','90’','75’','60’','45’','30’','15’ release 37°C','HU arrest 37°C for 60’'][datum.value - 1], '\u200b', ['￪\u00a0\u00a0\u00a0\u00a0\u200b','￪\u00a0\u00a0\u00a0\u00a0\u200b','￪\u00a0\u00a0\u200b','￪\u00a0\u00a0\u200b','￪\u00a0\u00a0\u200b','￪\u00a0\u00a0\u200b','￪\u00a0\u00a0\u200b','￪\u00a0\u00a0\u00a0\u00a0\u00a0\u00a0\u00a0\u00a0\u00a0\u00a0\u00a0\u00a0\u00a0\u00a0\u00a0\u00a0\u00a0\u00a0\u00a0\u00a0\u00a0\u00a0\u00a0\u00a0\u200b','￪\u00a0\u00a0\u00a0\u00a0\u00a0\u00a0\u00a0\u00a0\u00a0\u00a0\u00a0\u00a0\u00a0\u00a0\u00a0\u00a0\u00a0\u00a0\u00a0\u00a0\u00a0\u00a0\u00a0\u00a0\u00a0\u00a0\u00a0\u00a0\u00a0\u00a0\u00a0\u00a0\u200b'][datum.value - 1]]"}}
},
"spec":{
"width":185,"height":69,
"mark":{"type":"line","color":"#111","strokeWidth":1.1,"strokeJoin":"round"},
"encoding":{
"x":{"field":"dna","type":"quantitative","scale":{"domain":[0,185],"nice":false,"zero":false},
"axis":{"values":[0,45,91,138,185],"labelExpr":"datum.value == 45 ? '1C' : datum.value == 91 ? '2C' : ''","title":null,"domain":false,"grid":true,"gridColor":"#555","gridWidth":1,"gridOpacity":1,"ticks":true,"tickSize":10,"tickWidth":1.5,"tickColor":"#222","tickOpacity":{"condition":{"test":"datum.value == 45 || datum.value == 91","value":1},"value":0},"labelFont":"Liberation Sans","labelFontSize":17,"labelColor":"#222","labelPadding":2}},
"y":{"field":"count","type":"quantitative","scale":{"domain":[0,69],"nice":false},
"axis":{"values":[0],"grid":true,"gridColor":"#555","gridWidth":1,"gridOpacity":1,"labels":false,"ticks":false,"domain":false,"title":null}}
}
},
"config":{"view":{"stroke":null},"font":"Liberation Sans"}
}
